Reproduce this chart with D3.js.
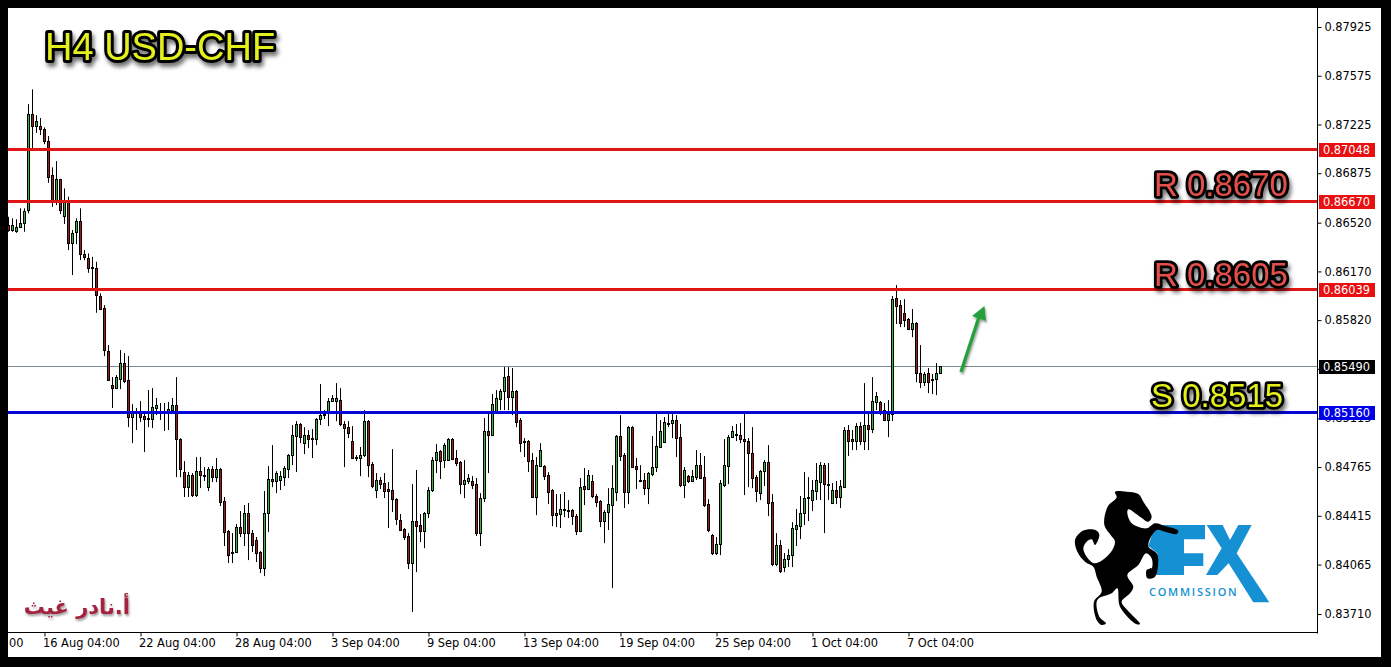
<!DOCTYPE html>
<html><head><meta charset="utf-8">
<script src="https://cdn.jsdelivr.net/npm/d3@7/dist/d3.min.js"></script>
<style>
html,body{margin:0;padding:0;background:#000;overflow:hidden}
svg{display:block}
.ax text{font-family:"DejaVu Sans",sans-serif;font-size:11.4px;fill:#000}
.big{font-family:"Liberation Sans",Arial,sans-serif;stroke:#000;stroke-linejoin:round;paint-order:stroke;filter:url(#sh)}
</style></head><body><div id="c"></div>
<script>
// prices in points (1 point = 0.00001), one entry per H4 bar
const opens=[86501,86462,86462,86490,86519,86605,87297,87208,87211,87190,
87104,86860,86670,86831,86569,86670,86376,86447,86529,86292,
86268,86199,86192,85993,85905,85598,85354,85332,85397,85512,
85390,85124,85153,85160,85131,85120,85110,85189,85155,85153,
85160,85174,85210,84966,84729,84621,84708,84564,84736,84708,
84621,84751,84693,84751,84521,84306,84155,84155,84334,84291,
84435,84291,84241,84155,84040,84435,84679,84665,84672,84693,
84751,84851,84988,85074,84937,84995,84973,84966,85110,85138,
85153,85239,85239,85246,85074,85052,84952,84837,84830,84851,
85095,84786,84600,84672,84650,84607,84600,84535,84385,84320,
84270,84076,84378,84349,84306,84435,84600,84815,84880,84815,
84815,84966,84830,84801,84643,84665,84665,84643,84291,84542,
85024,84995,85160,85253,85311,85418,85268,85311,85103,84952,
84952,84815,84550,84772,84772,84708,84600,84420,84428,84456,
84456,84456,84413,84306,84629,84607,84665,84557,84521,84378,
84442,84492,84586,84988,84851,84586,85052,84772,84665,84672,
84614,84715,84765,84909,84945,85081,85081,85103,84980,84636,
84700,84665,84693,84779,84693,84499,84277,84148,84212,84636,
84772,84980,85002,84995,84966,84952,84866,84693,84578,84736,
84801,84514,84069,84205,84047,84105,84133,84320,84342,84435,
84542,84528,84593,84657,84779,84643,84507,84600,84550,84621,
85031,84966,84952,85059,84952,85067,85038,85232,85232,85174,
85103,85146,85979,85928,85871,85828,85756,85799,85440,85375,
85440,85397,85397,85440];
const highs=[86562,86551,86544,86623,86623,87371,87477,87292,87271,87204,
87142,86917,86962,86835,86766,86706,86467,86551,86623,86323,
86299,86275,86239,86012,85928,85641,85411,85426,85605,85584,
85562,85217,85189,85239,85155,85318,85332,85261,85225,85225,
85232,85261,85411,84973,84808,84729,84722,84837,84837,84765,
84765,84772,84830,84758,84550,84313,84291,84356,84449,84492,
84507,84313,84263,84162,84593,84772,84923,84736,84736,84772,
84858,85067,85095,85081,85052,85031,85038,85117,85361,85174,
85261,85282,85368,85332,85095,85095,85059,84851,84909,85174,
85103,84801,84722,84693,84722,84657,84894,84542,84428,84327,
84291,84643,84744,84428,84442,84621,84837,84930,84887,84937,
84973,84973,84887,84808,84815,84715,84700,84686,84578,85117,
85146,85289,85318,85325,85483,85483,85476,85318,85117,84973,
84959,84866,84837,84937,84779,84729,84607,84571,84571,84586,
84528,84464,84428,84686,84758,84744,84708,84571,84528,84456,
84614,84779,84995,85138,84866,85059,85059,84830,84779,84722,
84729,84988,85153,85103,85124,85160,85160,85138,85074,84765,
84708,84744,84887,84866,84844,84535,84284,84263,84672,84966,
84995,85059,85074,85081,85153,84973,85052,84708,84744,84815,
84923,84571,84291,84241,84148,84176,84370,84464,84557,84729,
84693,84672,84794,84801,84794,84794,84650,84665,84672,85052,
85067,85031,85081,85088,85368,85160,85411,85304,85239,85225,
85246,85993,86072,85964,85971,85835,85900,85806,85641,85447,
85476,85433,85512,85490];
const lows=[86455,86455,86447,86485,86455,86587,87046,87165,87149,87084,
86806,86634,86646,86582,86510,86323,86144,86366,86251,86251,
86160,86031,85873,85892,85562,85383,85189,85325,85325,85368,
85052,84937,85031,85088,84873,85052,85045,85138,85103,85024,
85031,85160,84693,84693,84550,84550,84550,84550,84614,84665,
84593,84657,84657,84485,84198,84076,84076,84148,84263,84198,
84097,84155,84083,84004,83982,84298,84621,84578,84600,84629,
84686,84779,84729,84937,84858,84901,84830,84923,85067,85110,
85059,85232,85095,85059,84765,84973,84830,84808,84700,84837,
84693,84614,84542,84607,84542,84327,84442,84349,84306,84241,
84033,83724,84011,84227,84183,84399,84586,84722,84679,84758,
84815,84815,84772,84571,84542,84643,84607,84270,84198,84514,
84722,84988,85153,85174,85174,85174,85138,85052,84873,84837,
84729,84546,84420,84765,84672,84499,84341,84334,84327,84406,
84399,84349,84277,84298,84492,84600,84542,84478,84334,84219,
84313,83896,84521,84808,84471,84499,84758,84607,84657,84564,
84499,84700,84729,84909,84937,85052,84973,84837,84621,84542,
84650,84657,84672,84679,84478,84298,84133,84133,84133,84621,
84643,84977,84952,84937,84564,84621,84614,84514,84528,84629,
84413,84054,84054,84004,84011,84047,84047,84198,84248,84349,
84378,84449,84528,84528,84291,84528,84507,84499,84471,84614,
84844,84887,84887,84923,84887,84887,85009,85174,85138,85095,
84980,85095,85792,85770,85770,85749,85698,85375,85332,85347,
85296,85289,85282,85440];
const closes=[86462,86501,86491,86519,86605,87297,87208,87247,87187,87101,
86849,86670,86831,86605,86670,86376,86447,86529,86289,86268,
86196,86192,85995,85902,85600,85390,85332,85411,85512,85383,
85124,85153,85160,85124,85110,85110,85196,85210,85165,85167,
85182,85210,84966,84751,84621,84708,84564,84736,84708,84700,
84751,84693,84751,84514,84298,84133,84148,84334,84291,84435,
84291,84205,84148,84040,84435,84679,84665,84722,84700,84758,
84851,84995,85074,84980,84995,84966,84966,85110,85138,85146,
85239,85261,85261,85074,85045,85009,84830,84830,84851,85095,
84779,84629,84672,84643,84593,84593,84535,84392,84313,84263,
84076,84378,84342,84306,84435,84600,84815,84873,84808,84923,
84966,84822,84794,84643,84672,84686,84636,84291,84542,85024,
84995,85217,85261,85311,85411,85268,85311,85088,84937,84944,
84808,84550,84779,84887,84700,84586,84420,84435,84464,84464,
84449,84413,84306,84621,84607,84708,84557,84514,84378,84442,
84499,84614,84988,84844,84586,85052,84765,84751,84672,84614,
84722,84765,84916,85024,85088,85085,85103,84973,84636,84744,
84665,84700,84779,84686,84492,84313,84148,84212,84650,84779,
84980,85024,84995,84966,84952,84866,84686,84593,84736,84801,
84507,84069,84205,84018,84105,84133,84327,84349,84435,84542,
84550,84600,84672,84779,84643,84636,84600,84550,84629,85031,
84952,84952,85059,84952,85067,85038,85239,85275,85167,85103,
85146,85971,85921,85799,85821,85756,85799,85440,85375,85433,
85375,85390,85440,85490];
// axis content
const priceTicks=[0.87925,0.87575,0.87225,0.86875,0.86520,0.86170,0.85820,0.85470,0.85115,0.84765,0.84415,0.84065,0.83710];
const timeTickBars=[9,33,57,81,105,129,153,177,201,225];
const timeTickLabels=["16 Aug 04:00","22 Aug 04:00","28 Aug 04:00","3 Sep 04:00","9 Sep 04:00","13 Sep 04:00","19 Sep 04:00","25 Sep 04:00","1 Oct 04:00","7 Oct 04:00"];
const levelPrices=[0.87048,0.86670,0.86039,0.85160];
const levelColors=["#e01515","#e01515","#e01515","#0505d8"];
const bidPrice=0.85490;
const notes=[["R 0.8670",0.8670],["R 0.8605",0.8605],["S 0.8515",0.8515]];
// logo outline, traced in a 3x crop of the logo area
const horseOutline=[[225,65],[260,65],[295,72],[310,95],[335,140],[325,155],[300,140],[265,118],[262,130],[275,160],[320,175],[345,160],[375,168],[415,182],[410,192],[375,185],[350,180],[325,228],[350,250],[355,270],[345,320],[322,325],[320,300],[335,295],[335,265],[318,250],[295,285],[262,315],[280,350],[270,370],[245,395],[262,420],[300,462],[290,463],[240,410],[232,355],[215,370],[172,390],[178,440],[198,460],[185,465],[170,450],[162,395],[185,365],[170,320],[160,290],[135,275],[112,245],[105,210],[120,188],[145,178],[170,182],[178,195],[165,225],[155,208],[140,215],[130,235],[140,260],[165,280],[210,250],[225,215],[212,195],[193,165],[203,110],[230,82]];

const W=1391,H=667;
const svg=d3.select("#c").append("svg").attr("width",W).attr("height",H);
const defs=svg.append("defs");
const f=defs.append("filter").attr("id","sh").attr("x","-10%").attr("y","-30%").attr("width","125%").attr("height","170%");
f.append("feDropShadow").attr("dx",2).attr("dy",4).attr("stdDeviation",2.2).attr("flood-color","#000").attr("flood-opacity",0.55);
const f2=defs.append("filter").attr("id","sh2").attr("x","-20%").attr("y","-20%").attr("width","150%").attr("height","150%");
f2.append("feDropShadow").attr("dx",1).attr("dy",2).attr("stdDeviation",1.2).attr("flood-color","#000").attr("flood-opacity",0.4);

svg.append("rect").attr("x",8).attr("y",8).attr("width",1373).attr("height",649).attr("fill","#fff");

const x=d3.scaleLinear().domain([0,233]).range([8.5,940.5]);
const y=d3.scaleLinear().domain([0.87925,0.83710]).range([27,614]);
const yp=v=>y(v/1e5);
const plotR=1318,plotB=633;

svg.append("line").attr("x1",8).attr("x2",plotR).attr("y1",Math.round(y(bidPrice))+.5).attr("y2",Math.round(y(bidPrice))+.5)
  .attr("stroke","#7d8a94").attr("stroke-width",1);

const bars=svg.append("g").selectAll("g").data(d3.range(opens.length)).join("g");
bars.append("line").attr("x1",i=>x(i)).attr("x2",i=>x(i)).attr("y1",i=>yp(highs[i])).attr("y2",i=>yp(lows[i]))
  .attr("stroke","#000").attr("stroke-width",1);
bars.append("rect").attr("x",i=>x(i)-1).attr("width",2)
  .attr("y",i=>Math.round(yp(Math.max(opens[i],closes[i])))+.5)
  .attr("height",i=>Math.max(1,Math.round(Math.abs(yp(opens[i])-yp(closes[i])))))
  .attr("fill",i=>closes[i]>=opens[i]?"#2fb83a":"#a01c1c").attr("stroke","#000").attr("stroke-width",1);

svg.append("g").selectAll("line").data(levelPrices).join("line")
  .attr("x1",8).attr("x2",plotR).attr("y1",d=>Math.floor(y(d))+.5).attr("y2",d=>Math.floor(y(d))+.5)
  .attr("stroke",(d,i)=>levelColors[i]).attr("stroke-width",3);

const ay=d3.axisRight(y).tickValues(priceTicks).tickFormat(d3.format(".5f")).tickSize(4).tickPadding(3);
const gy=svg.append("g").attr("class","ax").attr("transform",`translate(${plotR-.5},0)`).call(ay);
gy.select(".domain").attr("d",`M0,8V${plotB+.5}`).attr("stroke","#000");
const ax=d3.axisBottom(x).tickValues(timeTickBars).tickFormat((d,i)=>timeTickLabels[i]).tickSize(4).tickPadding(2);
const gx=svg.append("g").attr("class","ax").attr("transform",`translate(0,${plotB-.5})`).call(ax);
gx.select(".domain").attr("d",`M8,0H${plotR}`).attr("stroke","#000");
gx.selectAll("text").attr("text-anchor","start").attr("dx",-2);
// the first date label is cut by the window edge in the reference: only its tail shows
gx.append("text").attr("x",9).attr("y",6).attr("dy","0.71em").attr("text-anchor","start").text("00");

const tags=levelPrices.map((p,i)=>({p,fill:levelColors[i]==="#0505d8"?"#0000e6":"#e81010"})).concat([{p:bidPrice,fill:"#000"}]);
const tg=svg.append("g").selectAll("g").data(tags).join("g").attr("transform",d=>`translate(1319,${Math.floor(y(d.p))-6})`);
tg.append("rect").attr("width",56).attr("height",14).attr("fill",d=>d.fill);
tg.append("text").attr("x",4).attr("y",11).attr("fill","#fff").attr("font-family","DejaVu Sans").attr("font-size",11.4).text(d=>d3.format(".5f")(d.p));

svg.append("text").attr("class","big").attr("x",45).attr("y",60).attr("font-size",38).attr("fill","#e3f01c").attr("stroke-width",6).text("H4 USD-CHF");
const noteX=[1154,1154,1151],noteY=[196,286,407],noteC=["#e5504a","#e5504a","#e3f01c"];
svg.append("g").selectAll("text").data(notes).join("text").attr("class","big")
 .attr("x",(d,i)=>noteX[i]).attr("y",(d,i)=>noteY[i]).attr("font-size",33).attr("stroke-width",5.5)
 .attr("fill",(d,i)=>noteC[i]).text(d=>d[0]);

const ar=svg.append("g").attr("filter","url(#sh2)");
ar.append("line").attr("x1",961).attr("y1",372).attr("x2",979).attr("y2",317).attr("stroke","#27a03c").attr("stroke-width",3.4);
ar.append("path").attr("d","M984.5,306L986,321L972,316Z").attr("fill","#27a03c");

svg.append("text").attr("x",130).attr("y",614).attr("text-anchor","start").attr("direction","rtl")
 .attr("font-family","DejaVu Sans").attr("font-weight","bold").attr("font-size",21).attr("fill","#a3203c").attr("filter","url(#sh2)").text("أ.نادر غيث");

const logo=svg.append("g").attr("transform","translate(1040,470) scale(0.3333)");
logo.append("path").attr("fill","#1590d2").attr("d","M345,165H495V208H432V250H490V288H432V315H345L352,250L325,228Z");
logo.append("path").attr("fill","#1590d2").attr("d","M500,165H548L570,210L595,165H635L590,250L688,397H640L566,280L532,315H498L545,235Z");
logo.append("text").attr("x",327).attr("y",379).attr("font-family","Open Sans").attr("font-weight",600).attr("font-size",33).attr("fill","#1590d2").attr("textLength",263).text("COMMISSION");
logo.append("path").attr("fill","#000").attr("d",d3.line().curve(d3.curveCatmullRomClosed.alpha(0.5))(horseOutline));

svg.append("path").attr("fill","#000").attr("fill-rule","evenodd").attr("d",`M0,0H${W}V${H}H0ZM8,8V657H1381V8Z`);
</script></body></html>
